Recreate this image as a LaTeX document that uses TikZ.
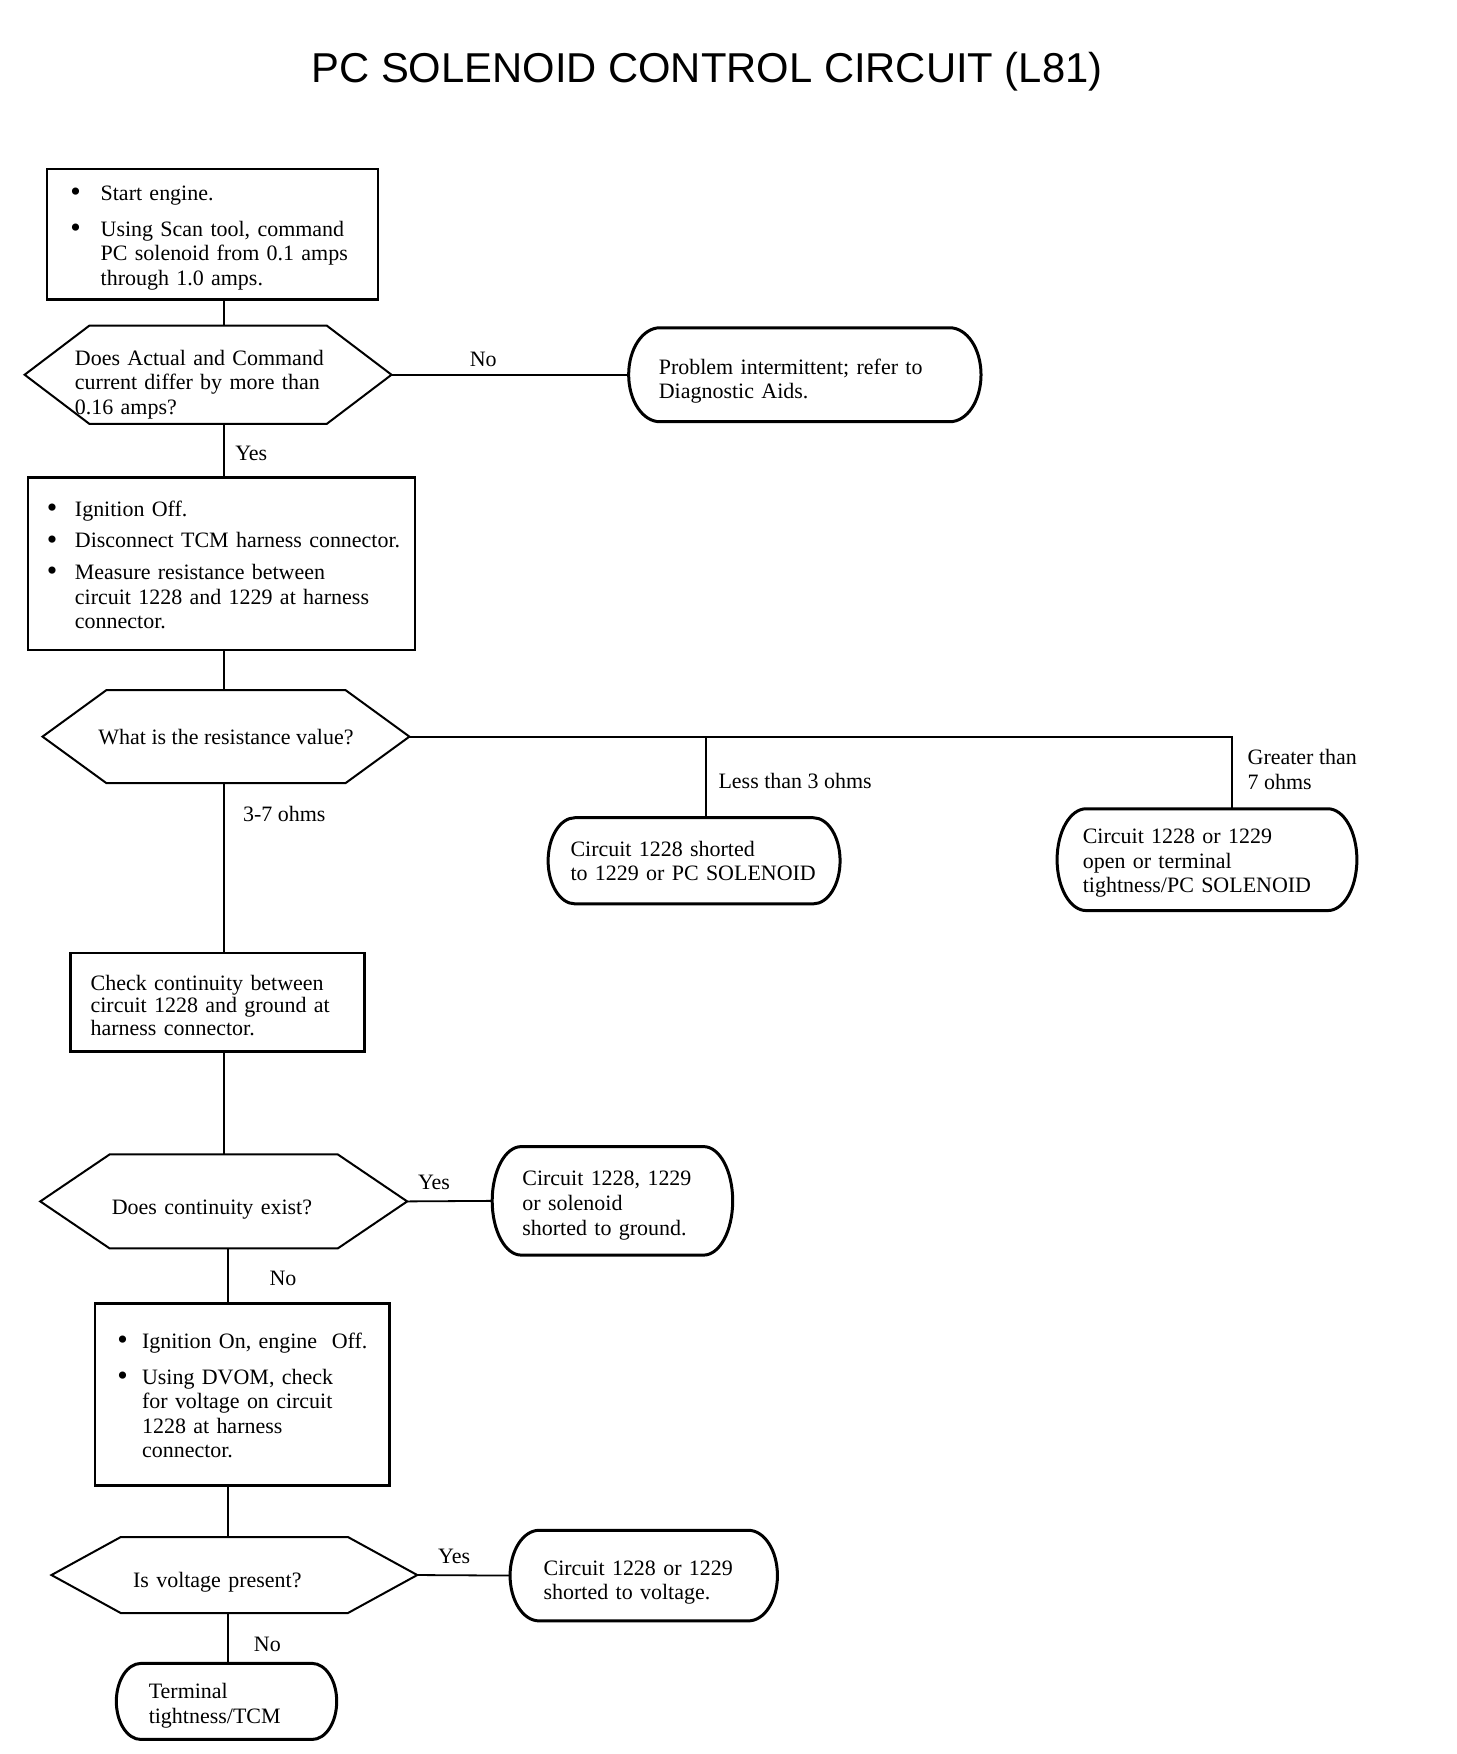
\documentclass[tikz,border=0pt]{standalone}
\usepackage{fontspec}
\setmainfont{Liberation Serif}
\newfontfamily\titlefont{Liberation Sans}
\usetikzlibrary{calc}
\newdimen\U \U=0.56pt
\newcommand\bitem[2]{\par\noindent\makebox[#1][l]{\raisebox{-0.6pt}{\fontsize{15}{15}\selectfont\textbullet}}\begin{tabular}[t]{@{}l@{}}#2\end{tabular}\par}
\newcommand\dn[1]{\rule{0pt}{\dimexpr7.5pt+#1\U\relax}}
\newcommand\hexshape[2]{\draw[hexline] (#1.west) -- ($(#1.north west)+(#2,0)$) -- ($(#1.north east)+(-#2,0)$) -- (#1.east) -- ($(#1.south east)+(-#2,0)$) -- ($(#1.south west)+(#2,0)$) -- cycle;}
\newcommand\termshape[2]{\draw[termline] let \p1=(#1.north west), \p2=(#1.south east) in
  (\x1+#2*0.56pt,\y1) -- (\x2-#2*0.56pt,\y1)
  arc[start angle=90,end angle=-90,x radius=#2*0.56pt,y radius={(\y1-\y2)/2}]
  -- (\x1+#2*0.56pt,\y2)
  arc[start angle=270,end angle=90,x radius=#2*0.56pt,y radius={(\y1-\y2)/2}] -- cycle;}
\tikzset{
  txt/.style={font=\fontsize{11}{12.3}\selectfont, align=left, inner xsep=0pt, inner ysep=0pt, outer sep=0pt},
  boxn/.style={txt, draw, line width=1.4pt},
  lbl/.style={font=\fontsize{11}{12.3}\selectfont, inner sep=0pt, align=left},
  conn/.style={line width=0.9pt},
  hexline/.style={line width=1pt, line join=miter},
  termline/.style={line width=1.5pt},
}
\begin{document}
\begin{tikzpicture}[x=0.56pt, y=-0.56pt]
\fill[white] (0,0) rectangle (1302,1568);
\node[font=\titlefont\fontsize{20.9}{24}\selectfont, inner sep=0pt] (title) at (632,64) {PC SOLENOID CONTROL CIRCUIT (L81)};

% boxes
\node[boxn, minimum width=296\U, minimum height=117\U, text width=254\U] (b1) at (190,209.5)
  {\bitem{27\U}{Start engine.}\vspace{5.6pt}\bitem{27\U}{Using Scan tool, command\\PC solenoid from 0.1 amps\\through 1.0 amps.}};
\node[boxn, minimum width=346\U, minimum height=154\U, text width=312\U] (b2) at (198,504)
  {\bitem{25\U}{Ignition Off.}\vspace{3.6pt}\bitem{25\U}{Disconnect TCM harness connector.}\vspace{3.6pt}\bitem{25\U}{Measure resistance between\\circuit 1228 and 1229 at harness\\connector.}};
\node[boxn, minimum width=263\U, minimum height=88\U, text width=227\U, font=\fontsize{11}{11.2}\selectfont] (b3) at (194.5,896)
  {\dn{6}Check continuity between\\circuit 1228 and ground at\\harness connector.};
\node[boxn, minimum width=263\U, minimum height=163\U, text width=223\U] (b4) at (216.5,1246.5)
  {\bitem{22\U}{Ignition On, engine\ \ Off.}\vspace{5.6pt}\bitem{22\U}{Using DVOM, check\\for voltage on circuit\\1228 at harness\\connector.}};

% decisions
\node[txt, minimum width=328\U, minimum height=88\U, text width=238\U] (h1) at (186,335)
  {\dn{18}Does Actual and Command\\current differ by more than\\0.16 amps?};
\node[txt, align=center, minimum width=328\U, minimum height=83\U] (h2) at (202,658.5)
  {What is the resistance value?};
\node[txt, minimum width=328\U, minimum height=84\U, text width=200\U] (h3) at (200,1074)
  {\dn{14}Does continuity exist?};
\node[txt, minimum width=327\U, minimum height=68\U, text width=181\U] (h4) at (209.5,1408)
  {\dn{14}Is voltage present?};
\hexshape{h1}{58}
\hexshape{h2}{57}
\hexshape{h3}{62}
\hexshape{h4}{62}

% terminals
\node[txt, minimum width=315\U, minimum height=84\U, text width=261\U] (t1) at (719.5,335)
  {\dn{12}Problem intermittent; refer to\\Diagnostic Aids.};
\node[txt, minimum width=261\U, minimum height=77\U, text width=221\U] (t2) at (620.5,769.5)
  {Circuit 1228 shorted\\to 1229 or PC SOLENOID};
\node[txt, minimum width=268\U, minimum height=91\U, text width=222\U] (t3) at (1079,768.5)
  {\dn{6}Circuit 1228 or 1229\\open or terminal\\tightness/PC SOLENOID};
\node[txt, minimum width=215\U, minimum height=97\U, text width=161\U] (t4) at (547.5,1073.5)
  {\dn{8}Circuit 1228, 1229\\or solenoid\\shorted to ground.};
\node[txt, minimum width=239\U, minimum height=81\U, text width=179\U] (t5) at (575.5,1408.5)
  {\dn{12}Circuit 1228 or 1229\\shorted to voltage.};
\node[txt, minimum width=197\U, minimum height=68\U, text width=139\U] (t6) at (202.5,1521)
  {\dn{8}Terminal\\tightness/TCM};
\termshape{t1}{28}
\termshape{t2}{24}
\termshape{t3}{26}
\termshape{t4}{26}
\termshape{t5}{26}
\termshape{t6}{22}

% connectors
\coordinate (sp) at (200,0);
\coordinate (sq) at (204,0);
\coordinate (brA) at (631,0);
\coordinate (brB) at (1101,0);
\draw[conn] (b1.south -| sp) -- (h1.north -| sp);
\draw[conn] (h1.east) -- (t1.west);
\draw[conn] (h1.south -| sp) -- (b2.north -| sp);
\draw[conn] (b2.south -| sp) -- (h2.north -| sp);
\draw[conn] (h2.east) -- (h2.east -| brB) -- (brB |- t3.north);
\draw[conn] (h2.east -| brA) -- (brA |- t2.north);
\draw[conn] (h2.south -| sp) -- (b3.north -| sp);
\draw[conn] (b3.south -| sp) -- (h3.north -| sp);
\draw[conn] (h3.east) -- (t4.west);
\draw[conn] (h3.south -| sq) -- (b4.north -| sq);
\draw[conn] (b4.south -| sq) -- (h4.north -| sq);
\draw[conn] (h4.east) -- (t5.west);
\draw[conn] (h4.south -| sq) -- (t6.north -| sq);

% labels
\node[lbl] (lNo1) at (432,321) {No};
\node[lbl, anchor=west] (lYes1) at (210,405) {Yes};
\node[lbl, anchor=west] (l37) at (217,728) {3-7 ohms};
\node[lbl, anchor=west] (lLess) at (642,698) {Less than 3 ohms};
\node[lbl, anchor=west] (lGt) at (1115,688) {Greater than\\7 ohms};
\node[lbl] (lYes3) at (388,1057) {Yes};
\node[lbl] (lNo3) at (253,1143) {No};
\node[lbl] (lYes4) at (406,1391) {Yes};
\node[lbl] (lNo4) at (239,1470) {No};
\end{tikzpicture}
\end{document}
